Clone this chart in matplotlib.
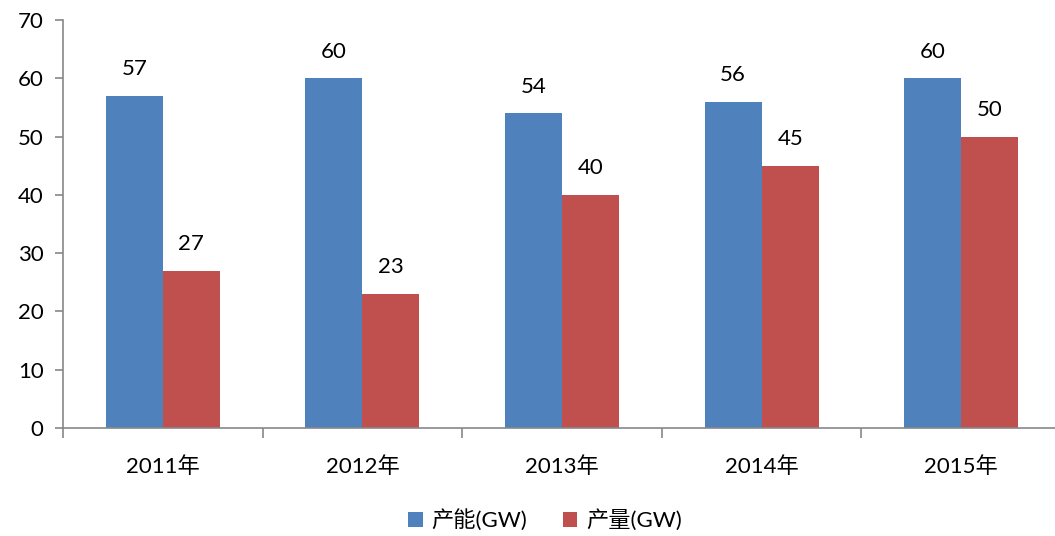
import numpy as np
import matplotlib.pyplot as plt

plt.rcParams['font.family'] = ['Lato', 'Noto Sans CJK SC', 'DejaVu Sans']

years = ['2011年', '2012年', '2013年', '2014年', '2015年']
capacity = [57, 60, 54, 56, 60]
output = [27, 23, 40, 45, 50]

blue = '#4f81bd'
red = '#c0504d'
spine_c = '#888888'

fig = plt.figure(figsize=(10.55, 5.36), dpi=100)
ax = fig.add_axes([63 / 1055, 1 - 428 / 536, 998 / 1055, 408 / 536])

x = np.arange(len(years))
w = 0.286
b1 = ax.bar(x - w / 2, capacity, w, color=blue, label='产能(GW)')
b2 = ax.bar(x + w / 2, output, w, color=red, label='产量(GW)')

# 数据标签
for bars in (b1, b2):
    for r in bars:
        ax.annotate(f'{r.get_height():g}', (r.get_x() + r.get_width() / 2, r.get_height()),
                    xytext=(0, 12), textcoords='offset points', ha='center', va='bottom',
                    fontsize=16)

ax.set_xlim(-0.5, len(years) - 0.5)
ax.set_ylim(0, 70)
ax.set_yticks(range(0, 71, 10))
ax.set_xticks(x)
ax.set_xticklabels(years)
ax.set_xticks(np.arange(-0.5, len(years)), minor=True)
ax.tick_params(axis='x', which='major', length=0, pad=20, labelsize=16)
ax.tick_params(axis='x', which='minor', length=7, color=spine_c, width=1.2)
ax.tick_params(axis='y', length=6, color=spine_c, width=1.2, labelsize=16, pad=8)

for s in ('top', 'right'):
    ax.spines[s].set_visible(False)
for s in ('left', 'bottom'):
    ax.spines[s].set_color(spine_c)
    ax.spines[s].set_linewidth(1.2)

fig.legend(loc='center', bbox_to_anchor=(545 / 1055, 1 - 520 / 536), ncol=2, frameon=False,
           fontsize=16, handlelength=0.65, handleheight=0.65, columnspacing=1.6, handletextpad=0.4)

fig.savefig('out.png', dpi=100)
